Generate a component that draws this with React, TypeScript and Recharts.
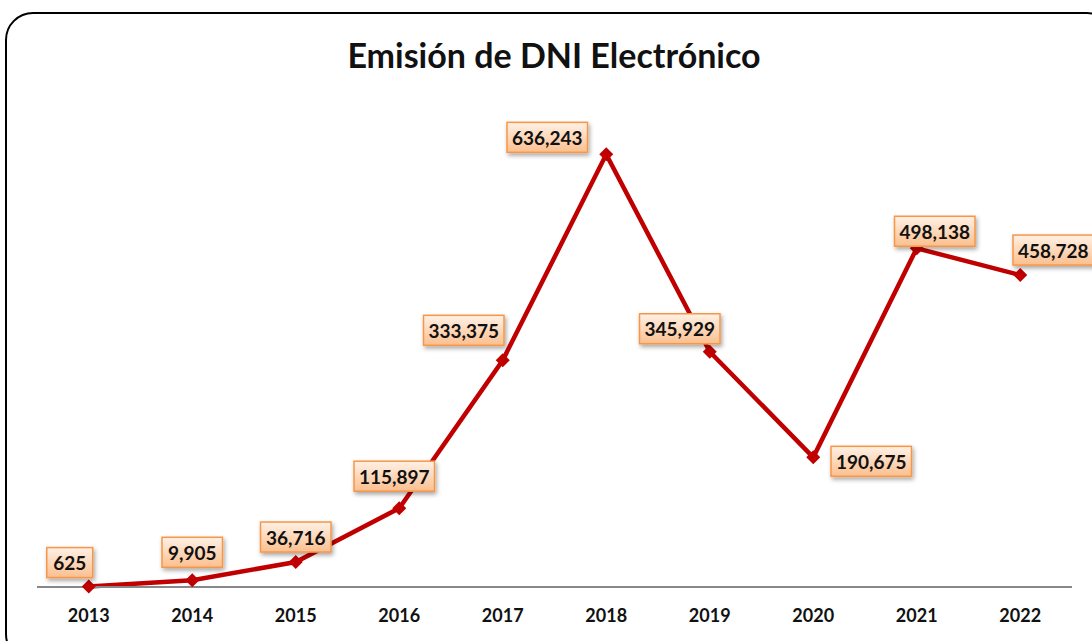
import React from "react";
import { LineChart, Line, XAxis, YAxis } from "recharts";

const years = ["2013", "2014", "2015", "2016", "2017", "2018", "2019", "2020", "2021", "2022"];
const emitted = [625, 9905, 36716, 115897, 333375, 636243, 345929, 190675, 498138, 458728];

const chartData = years.map((year, i) => ({ year, value: emitted[i] }));

// where each label box sits relative to its point
const LABEL_OFFSETS: [number, number][] = [
  [-19, -24],
  [0, -28],
  [0, -25],
  [-5, -32],
  [-39, -30],
  [-59, -17],
  [-30, -23],
  [58, 4],
  [18, -17],
  [33, -25],
];

const FONT = "Lato, 'Open Sans', sans-serif";
const RED = "#c00000";

const fmt = (v: number) => v.toLocaleString("en-US");

function Diamond(props: any) {
  const { cx, cy } = props;
  if (cx == null || cy == null) return null;
  const r = 7;
  return (
    <path
      d={`M${cx},${cy - r} L${cx + r},${cy} L${cx},${cy + r} L${cx - r},${cy} Z`}
      fill={RED}
    />
  );
}

function BoxLabel(props: any) {
  const { x, y, value, index } = props;
  if (x == null || y == null) return null;
  const text = fmt(Number(value));
  const digits = text.replace(/,/g, "").length;
  const commas = text.length - digits;
  const w = 16 + digits * 10 + commas * 4.5;
  const h = 30;
  const [dx, dy] = LABEL_OFFSETS[index] ?? [0, -25];
  const cx = x + dx;
  const cy = y + dy;
  return (
    <g>
      <rect
        x={cx - w / 2}
        y={cy - h / 2}
        width={w}
        height={h}
        fill="url(#boxGrad)"
        stroke="#f79646"
        strokeWidth={1.5}
        filter="url(#boxShadow)"
      />
      <text
        x={cx}
        y={cy}
        textAnchor="middle"
        dominantBaseline="central"
        fontFamily={FONT}
        fontWeight={700}
        fontSize={19}
        fill="#111"
      >
        {text}
      </text>
    </g>
  );
}

export default function App() {
  return (
    <div
      style={{
        position: "absolute",
        left: 0,
        top: 0,
        width: 1092,
        height: 641,
        overflow: "hidden",
        background: "#fff",
      }}
    >
      <div
        style={{
          position: "absolute",
          left: 5,
          top: 12,
          width: 1110,
          height: 650,
          border: "2.5px solid #000",
          borderRadius: 28,
          boxSizing: "border-box",
        }}
      />
      <div
        style={{
          position: "absolute",
          left: 0,
          top: 34,
          width: 1108,
          textAlign: "center",
          fontFamily: FONT,
          fontWeight: 700,
          fontSize: 34,
          color: "#111",
        }}
      >
        Emisión de DNI Electrónico
      </div>
      <div style={{ position: "absolute", left: 0, top: 0 }}>
        <LineChart
          width={1092}
          height={641}
          data={chartData}
          margin={{ top: 111, right: 20, bottom: 14, left: 37 }}
        >
          <defs>
            <linearGradient id="boxGrad" x1="0" y1="0" x2="0" y2="1">
              <stop offset="0%" stopColor="#fff1e6" />
              <stop offset="100%" stopColor="#fbbf8e" />
            </linearGradient>
            <filter id="boxShadow" x="-20%" y="-30%" width="140%" height="170%">
              <feDropShadow dx="1.5" dy="2.5" stdDeviation="2" floodColor="#000" floodOpacity="0.35" />
            </filter>
          </defs>
          <XAxis
            dataKey="year"
            height={40}
            padding={{ left: 51.75, right: 51.75 }}
            tickLine={false}
            axisLine={{ stroke: "#888", strokeWidth: 2 }}
            tickMargin={16}
            interval={0}
            tick={{ fontFamily: FONT, fontWeight: 700, fontSize: 18, fill: "#111" }}
          />
          <YAxis hide domain={[0, 700000]} />
          <Line
            type="linear"
            dataKey="value"
            stroke={RED}
            strokeWidth={4.5}
            dot={<Diamond />}
            activeDot={false}
            isAnimationActive={false}
            label={<BoxLabel />}
          />
        </LineChart>
      </div>
    </div>
  );
}
